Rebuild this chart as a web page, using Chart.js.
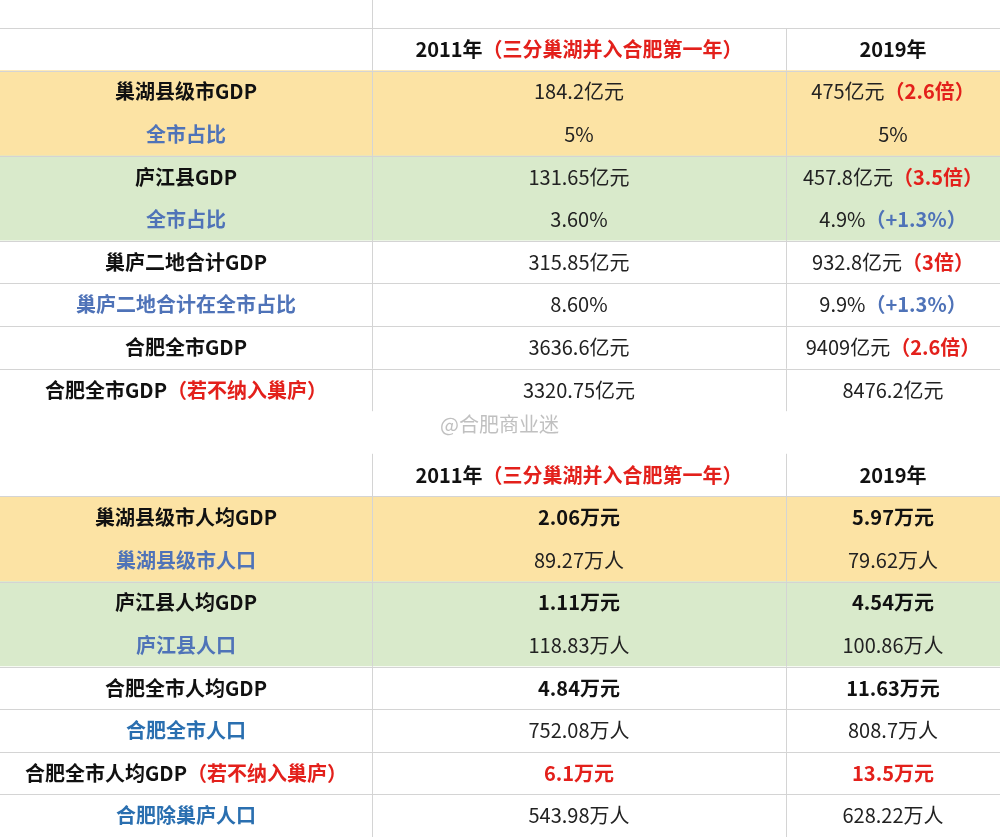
<!DOCTYPE html><html><head><meta charset="utf-8">
<script src="https://cdn.jsdelivr.net/npm/chart.js"></script>
<style>html,body{margin:0;background:#fff}#w{width:1000px;height:837px}</style></head><body><div id="w"><canvas id="c"></canvas></div>
<script>
const R='#e3201b',B='#4f73b8',T='#2a6fb0',K='#111',N='#222';
const rowKeys=['h1','r1','r2','r3','r4','r5','r6','r7','r8','gap','h2','s1','s2','s3','s4','s5','s6','s7','s8'];
const rowFill=['#ffffff','#fce3a4','#fce3a4','#d9eacb','#d9eacb','#ffffff','#ffffff','#ffffff','#ffffff','#ffffff','#ffffff','#fce3a4','#fce3a4','#d9eacb','#d9eacb','#ffffff','#ffffff','#ffffff','#ffffff'];
const col0=[[],[['巢湖县级市GDP',K,1]],[['全市占比',B,1]],[['庐江县GDP',K,1]],[['全市占比',B,1]],[['巢庐二地合计GDP',K,1]],[['巢庐二地合计在全市占比',B,1]],[['合肥全市GDP',K,1]],[['合肥全市GDP',K,1],['（若不纳入巢庐）',R,1]],[],[],
[['巢湖县级市人均GDP',K,1]],[['巢湖县级市人口',B,1]],[['庐江县人均GDP',K,1]],[['庐江县人口',B,1]],[['合肥全市人均GDP',K,1]],[['合肥全市人口',T,1]],[['合肥全市人均GDP',K,1],['（若不纳入巢庐）',R,1]],[['合肥除巢庐人口',T,1]]];
const col1=[[['2011年',K,1],['（三分巢湖并入合肥第一年）',R,1]],[['184.2亿元',N,0]],[['5%',N,0]],[['131.65亿元',N,0]],[['3.60%',N,0]],[['315.85亿元',N,0]],[['8.60%',N,0]],[['3636.6亿元',N,0]],[['3320.75亿元',N,0]],[],[['2011年',K,1],['（三分巢湖并入合肥第一年）',R,1]],
[['2.06万元',K,1]],[['89.27万人',N,0]],[['1.11万元',K,1]],[['118.83万人',N,0]],[['4.84万元',K,1]],[['752.08万人',N,0]],[['6.1万元',R,1]],[['543.98万人',N,0]]];
const col2=[[['2019年',K,1]],[['475亿元',N,0],['（2.6倍）',R,1]],[['5%',N,0]],[['457.8亿元',N,0],['（3.5倍）',R,1]],[['4.9%',N,0],['（+1.3%）',B,1]],[['932.8亿元',N,0],['（3倍）',R,1]],[['9.9%',N,0],['（+1.3%）',B,1]],[['9409亿元',N,0],['（2.6倍）',R,1]],[['8476.2亿元',N,0]],[],[['2019年',K,1]],
[['5.97万元',K,1]],[['79.62万人',N,0]],[['4.54万元',K,1]],[['100.86万人',N,0]],[['11.63万元',K,1]],[['808.7万人',N,0]],[['13.5万元',R,1]],[['628.22万人',N,0]]];
const colEdges=[0,372,786,1000];
const cols=[col0,col1,col2];
const tablePlugin={id:'tbl',afterDatasetsDraw(ch){
 const c=ch.ctx,xs=ch.scales.x,ys=ch.scales.y;
 const h=ys.getPixelForValue(1)-ys.getPixelForValue(0);
 c.save();
 c.strokeStyle='#d4d4d4';c.lineWidth=1;
 rowKeys.forEach((k,i)=>{const y=ys.getPixelForValue(i);
  const top=Math.round(y-h/2)+0.5;
  const sameBlock=i>0&&rowFill[i]!=='#ffffff'&&rowFill[i]===rowFill[i-1];
  if(k!=='gap'&&rowKeys[i-1]!=='gap'&&!sameBlock){c.beginPath();c.moveTo(0,top);c.lineTo(1000,top);c.stroke();}
  if(k!=='gap'){[1,2].forEach(e=>{const x=Math.round(xs.getPixelForValue(colEdges[e]))+0.5;c.beginPath();c.moveTo(x,y-h/2);c.lineTo(x,y+h/2);c.stroke();});}
  cols.forEach((col,ci)=>{const segs=col[i];if(!segs||!segs.length)return;
   const cx=xs.getPixelForValue((colEdges[ci]+colEdges[ci+1])/2);
   let tw=0;segs.forEach(s=>{c.font=(s[2]?'bold ':'')+'20px "Noto Sans CJK SC"';tw+=c.measureText(s[0]).width;});
   let x=cx-tw/2;c.textBaseline='middle';c.textAlign='left';
   segs.forEach(s=>{c.font=(s[2]?'bold ':'')+'20px "Noto Sans CJK SC"';c.fillStyle=s[1];c.fillText(s[0],x,y);x+=c.measureText(s[0]).width;});
  });
 });
 c.beginPath();c.moveTo(Math.round(xs.getPixelForValue(colEdges[1]))+0.5,0);c.lineTo(Math.round(xs.getPixelForValue(colEdges[1]))+0.5,28);c.stroke();
 c.font='20px "Noto Sans CJK SC"';c.fillStyle='rgba(150,150,150,0.6)';c.textAlign='left';c.fillText('@合肥商业迷',440,ys.getPixelForValue(9)-8);
 c.restore();}};
new Chart(document.getElementById('c'),{type:'bar',
 data:{labels:rowKeys,datasets:[{data:rowKeys.map(()=>[colEdges[0],colEdges[3]]),backgroundColor:rowFill,borderWidth:0,barPercentage:1,categoryPercentage:1}]},
 options:{indexAxis:'y',responsive:true,maintainAspectRatio:false,animation:false,
  layout:{padding:{top:28,left:0,right:0,bottom:0}},
  plugins:{legend:{display:false},tooltip:{enabled:false}},
  scales:{x:{type:'linear',min:0,max:1000,display:false},y:{type:'category',display:false,offset:true,grid:{display:false}}}},
 plugins:[tablePlugin]});
</script></body></html>
